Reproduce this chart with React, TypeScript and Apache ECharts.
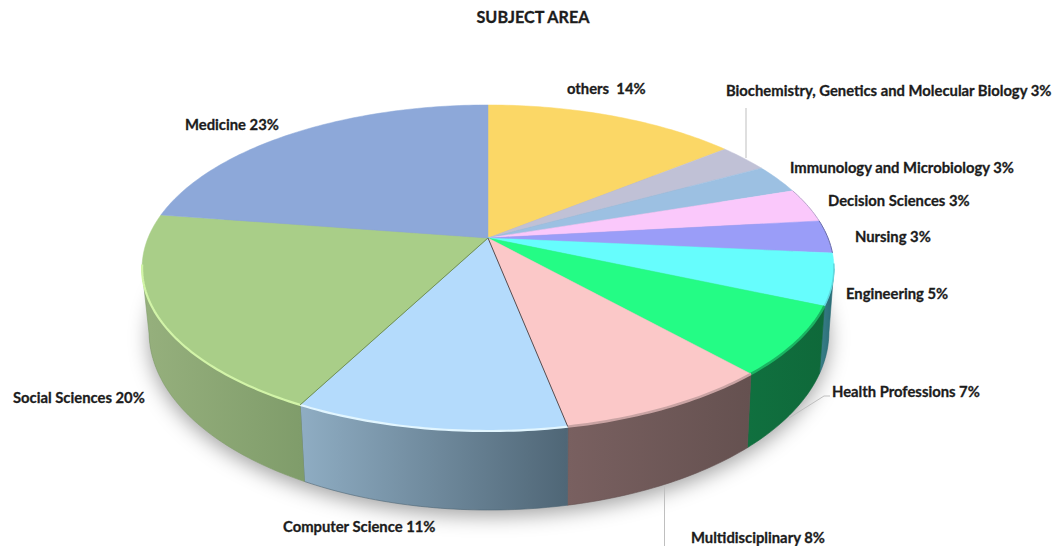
import React, { useEffect, useRef } from "react";
import * as echarts from "echarts";

const TITLE = "SUBJECT AREA";
const NAMES = ["others", "Biochemistry, Genetics and Molecular Biology", "Immunology and Microbiology", "Decision Sciences", "Nursing", "Engineering", "Health Professions", "Multidisciplinary", "Computer Science", "Social Sciences", "Medicine"];
const LABEL_TEXT = ["others  14%", "Biochemistry, Genetics and Molecular Biology 3%", "Immunology and Microbiology 3%", "Decision Sciences 3%", "Nursing 3%", "Engineering 5%", "Health Professions 7%", "Multidisciplinary 8%", "Computer Science 11%", "Social Sciences 20%", "Medicine 23%"];
const VALUES = [14.17, 2.81, 2.89, 3.37, 3.25, 5.07, 6.81, 8.55, 10.73, 19.75, 22.6];

const TOP_COLORS = ["#FBD766", "#C0C1D6", "#9CC0E2", "#FAC8FB", "#9A9DF8", "#66FDFD", "#24FC85", "#FBC8C8", "#B4DBFC", "#A9CE88", "#8DA8D9"];
const WALL_LEFT = ["#888", "#888", "#888", "#888", "#333", "#3a8088", "#10703f", "#796060", "#8fadc3", "#96b07d", "#888"];
const WALL_RIGHT = ["#888", "#888", "#888", "#888", "#333", "#286a74", "#0f693a", "#655150", "#4f6676", "#7f9c6a", "#888"];
const RIM_COLORS = [null, null, null, "#b9a6cc", "#6c6fa8", "#5fd8de", "#1ab562", "#c9a3a3", "#e2f6ff", "#d2f4a8", null];
const RIM_WIDTHS = [0, 0, 0, 1, 1, 1.5, 2.5, 2.5, 2.2, 2.2, 0];
const LABEL_POS: [number, number][] = [[567, 88], [726, 90], [790, 167], [828, 200], [855, 236], [846, 293], [832, 391], [691, 537], [283, 526], [13, 397], [185, 124]];

// Perspective of the top disc: a circle seen from above, centre (apex) at cx, apexY
const cx = 488, apexY = 238, a = 340, b = 157.5, k = 0.184;
// The ellipses of top rim and bottom rim
const topC = { x: 488, y: 268, rx: 346, ry: 163 };
const botC = { x: 489, y: 332, rx: 340, ry: 178 };

const total = VALUES.reduce((s, v) => s + v, 0);
function startAngle(i: number) {
  let s = 0;
  for (let j = 0; j < i; j++) s += VALUES[j];
  return (s / total) * Math.PI * 2;
}
function topPt(t: number): [number, number] {
  const d = 1 + k * Math.cos(t);
  return [cx + (a * Math.sin(t)) / d, apexY - (b * Math.cos(t)) / d];
}
function botPt(p: [number, number]): [number, number] {
  return [botC.x + ((p[0] - topC.x) / topC.rx) * botC.rx, botC.y + ((p[1] - topC.y) / topC.ry) * botC.ry];
}
function arc(i: number, v: number): [number, number][] {
  const s = startAngle(i);
  const e = s + (v / total) * Math.PI * 2;
  const n = Math.max(6, Math.ceil((e - s) * 60));
  const pts: [number, number][] = [];
  for (let j = 0; j <= n; j++) pts.push(topPt(s + ((e - s) * j) / n));
  return pts;
}
const isFront = (i: number) => i >= 4 && i <= 9;

function renderWall(params: any, api: any) {
  const i = params.dataIndex;
  if (!isFront(i)) return { type: "group", children: [] };
  const top = arc(i, api.value(0)).filter((p) => p[1] >= topC.y);
  if (top.length < 2) return { type: "group", children: [] };
  const bottom = top.map(botPt);
  const pts = top.concat(bottom.slice().reverse());
  return {
    type: "polygon",
    shape: { points: pts },
    style: {
      fill: new echarts.graphic.LinearGradient(0, 0, 1, 0, [
        { offset: 0, color: WALL_LEFT[i] },
        { offset: 1, color: WALL_RIGHT[i] },
      ]),
      stroke: WALL_RIGHT[i],
      lineWidth: 0.6,
    },
  };
}

function renderTop(params: any, api: any) {
  const i = params.dataIndex;
  const pts = arc(i, api.value(0));
  const children: any[] = [
    {
      type: "polygon",
      shape: { points: ([[cx, apexY]] as [number, number][]).concat(pts) },
      style: { fill: TOP_COLORS[i], stroke: TOP_COLORS[i], lineWidth: 0.5 },
    },
  ];
  if (RIM_COLORS[i]) {
    const rim = i >= 5 ? pts.filter((p) => p[1] >= 262) : pts;
    if (rim.length > 1) {
      children.push({
        type: "polyline",
        shape: { points: rim },
        style: { fill: "none", stroke: RIM_COLORS[i], lineWidth: RIM_WIDTHS[i] },
      });
    }
  }
  return { type: "group", children };
}

function renderEdges(params: any) {
  const i = params.dataIndex;
  const p = topPt(startAngle(i));
  const colors: Record<number, string> = { 8: "#5d4b4b", 9: "#6f8f58" };
  if (!colors[i]) return { type: "group", children: [] };
  return {
    type: "line",
    shape: { x1: cx, y1: apexY, x2: p[0], y2: p[1] },
    style: { stroke: colors[i], lineWidth: 1 },
  };
}

function renderLabel(params: any) {
  const i = params.dataIndex;
  return {
    type: "text",
    x: LABEL_POS[i][0],
    y: LABEL_POS[i][1],
    style: {
      text: LABEL_TEXT[i],
      fill: "#1c1c1c",
      stroke: "#1c1c1c",
      lineWidth: 0.3,
      font: "bold 14.8px Lato",
      textAlign: "left",
      textVerticalAlign: "middle",
    },
  };
}

export default function App() {
  const ref = useRef<HTMLDivElement>(null);
  useEffect(() => {
    document.body.style.margin = "0";
    const chart = echarts.init(ref.current!, null, { renderer: "svg" });
    const data = VALUES.map((v, i) => ({ name: NAMES[i], value: [v] }));
    const base = { type: "custom", coordinateSystem: "none", data, silent: true, clip: false } as any;
    chart.setOption({
      animation: false,
      backgroundColor: "#fff",
      title: {
        text: TITLE,
        left: 528,
        top: 3,
        textAlign: "center",
        textStyle: { fontFamily: "Lato", fontWeight: "bold", fontSize: 16.2, color: "#1c1c1c", textBorderColor: "#1c1c1c", textBorderWidth: 0.3 },
      },
      graphic: [
        {
          type: "ellipse",
          z: 0,
          silent: true,
          shape: { cx: botC.x, cy: botC.y - 1, rx: botC.rx, ry: botC.ry },
          style: { fill: "#999", shadowBlur: 20, shadowColor: "rgba(0,0,0,0.36)", shadowOffsetY: 7 },
        },
        { type: "line", z: 1, silent: true, shape: { x1: 746, y1: 108, x2: 746, y2: 158 }, style: { stroke: "#bfbfbf", lineWidth: 1 } },
        { type: "polyline", z: 1, silent: true, shape: { points: [[830, 396], [824, 396], [789, 418]] }, style: { stroke: "#bfbfbf", lineWidth: 1, fill: "none" } },
        { type: "line", z: 1, silent: true, shape: { x1: 664.5, y1: 482, x2: 664.5, y2: 546 }, style: { stroke: "#bfbfbf", lineWidth: 1 } },
      ],
      series: [
        { ...base, name: "walls", z: 2, renderItem: renderWall },
        { ...base, name: "tops", z: 3, renderItem: renderTop },
        { ...base, name: "edges", z: 4, renderItem: renderEdges },
        { ...base, name: "labels", z: 5, renderItem: renderLabel },
      ],
    });
    return () => chart.dispose();
  }, []);
  return <div ref={ref} style={{ width: 1054, height: 546 }} />;
}
